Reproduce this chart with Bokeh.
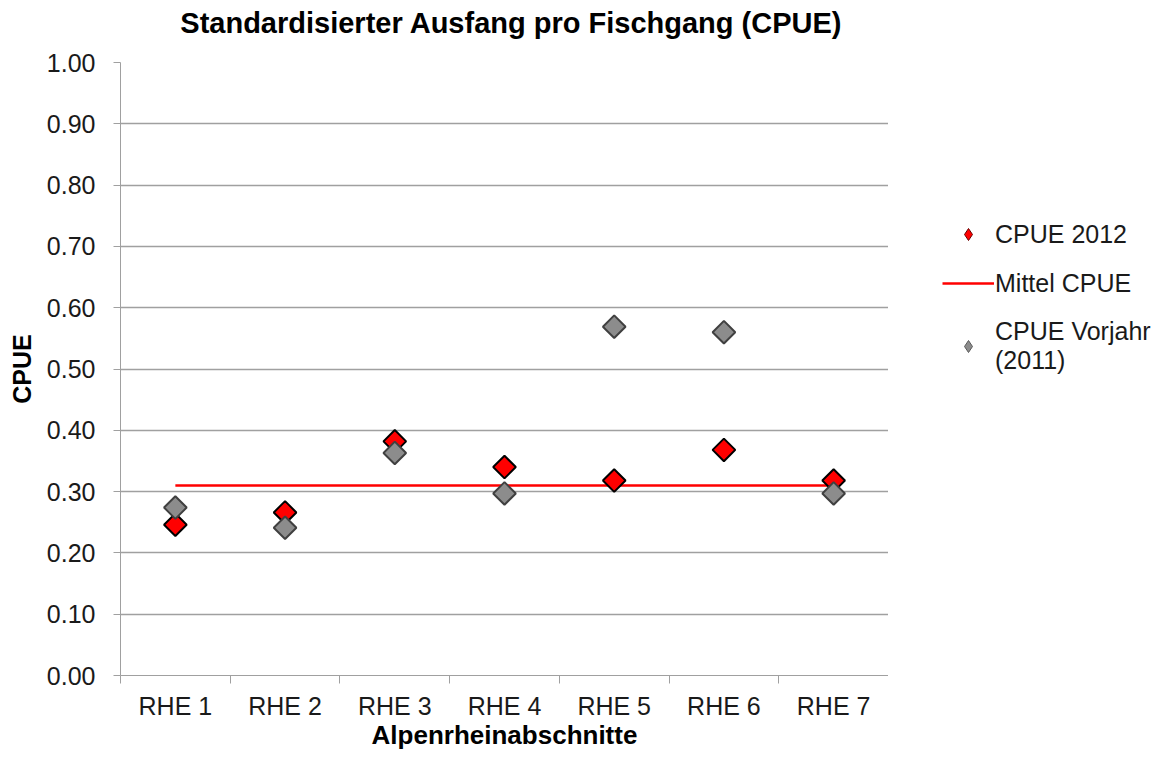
import math
from bokeh.plotting import figure
from bokeh.layouts import row, column
from bokeh.models import FixedTicker, Legend, LegendItem, ColumnDataSource, Range1d, Label
from bokeh.embed import file_html
from bokeh.resources import INLINE

categories = ["RHE 1", "RHE 2", "RHE 3", "RHE 4", "RHE 5", "RHE 6", "RHE 7"]
cpue_2012 = [0.246, 0.266, 0.382, 0.340, 0.318, 0.368, 0.318]
cpue_2011 = [0.274, 0.241, 0.363, 0.297, 0.569, 0.560, 0.297]
mittel_cpue = [0.31, 0.31, 0.31, 0.31, 0.31, 0.31, 0.31]
y_ticks = [0.0, 0.1, 0.2, 0.3, 0.4, 0.5, 0.6, 0.7, 0.8, 0.9, 1.0]
legend_labels = ["CPUE 2012", "Mittel CPUE", "CPUE Vorjahr\n(2011)"]
title_text = "Standardisierter Ausfang pro Fischgang (CPUE)"

FONT = "Liberation Sans"
TXT = "#1a1a1a"
GRID = "#a0a0a0"

xc = [i + 0.5 for i in range(len(categories))]
src = ColumnDataSource(dict(x=xc, cat=categories, c12=cpue_2012, c11=cpue_2011, m=mittel_cpue))

# header figure holding the chart title
hdr = figure(width=888, height=48, output_backend="svg", toolbar_location=None,
             x_range=Range1d(0, 888), y_range=Range1d(0, 48),
             x_axis_location=None, y_axis_location=None,
             min_border_left=0, min_border_right=0, min_border_top=0, min_border_bottom=0)
hdr.outline_line_color = None
hdr.xgrid.visible = False
hdr.ygrid.visible = False
hdr.add_layout(Label(x=452, y=26, text=title_text, text_font=FONT, text_font_size="29px",
                     text_font_style="bold", text_color="#000000",
                     text_align="center", text_baseline="middle"))

p = figure(width=888, height=704, output_backend="svg", toolbar_location=None,
           x_range=(0, len(categories)), y_range=(0, 1), title=None,
           min_border_left=120, min_border_right=0, min_border_top=14, min_border_bottom=77)
p.outline_line_color = None
p.background_fill_color = "white"

# x axis
xa = p.xaxis[0]
xa.ticker = FixedTicker(ticks=xc, minor_ticks=list(range(len(categories) + 1)))
xa.major_label_overrides = {x: c for x, c in zip(xc, categories)}
xa.major_tick_line_color = None
xa.major_tick_out = 8
xa.minor_tick_line_color = GRID
xa.minor_tick_out = 8
xa.minor_tick_in = 0
xa.axis_line_color = GRID
xa.major_label_text_font = FONT
xa.major_label_text_font_size = "25px"
xa.major_label_text_color = TXT
xa.major_label_standoff = 8
xa.axis_label = "Alpenrheinabschnitte"
xa.axis_label_text_font = FONT
xa.axis_label_text_font_size = "26px"
xa.axis_label_text_font_style = "bold"
xa.axis_label_text_color = "#000000"
xa.axis_label_standoff = -3

# y axis
ya = p.yaxis[0]
ya.ticker = FixedTicker(ticks=y_ticks, minor_ticks=[])
ya.major_label_overrides = {t: f"{t:.2f}" for t in y_ticks}
ya.major_tick_line_color = GRID
ya.major_tick_out = 7
ya.major_tick_in = 0
ya.minor_tick_line_color = None
ya.axis_line_color = GRID
ya.major_label_text_font = FONT
ya.major_label_text_font_size = "25px"
ya.major_label_text_color = TXT
ya.major_label_standoff = 18
ya.axis_label = "CPUE"
ya.axis_label_text_font = FONT
ya.axis_label_text_font_size = "25px"
ya.axis_label_text_font_style = "bold"
ya.axis_label_text_color = "#000000"
ya.axis_label_standoff = 8

p.xgrid.grid_line_color = None
p.ygrid.ticker = FixedTicker(ticks=y_ticks)
p.ygrid.grid_line_color = GRID
p.ygrid.grid_line_width = 1.5

r_line = p.line("x", "m", source=src, line_color="#ff0000", line_width=2.5)
r12 = p.scatter("x", "c12", source=src, marker="square", angle=math.pi / 4, size=16,
                fill_color="#ff0000", line_color="#000000", line_width=2)
r11 = p.scatter("x", "c11", source=src, marker="square", angle=math.pi / 4, size=16,
                fill_color="#8c8c8c", line_color="#404040", line_width=2)

# legend figure (to the right of the chart)
lf = figure(width=264, height=752, output_backend="svg", toolbar_location=None,
            x_range=Range1d(0, 1), y_range=Range1d(0, 1),
            x_axis_location=None, y_axis_location=None,
            min_border_left=0, min_border_right=0, min_border_top=0, min_border_bottom=0)
lf.outline_line_color = None
lf.xgrid.visible = False
lf.ygrid.visible = False

nan = float("nan")
lsrc = ColumnDataSource(dict(x=[nan], y=[nan]))
l12 = lf.scatter("x", "y", source=lsrc, marker="diamond", size=12,
                 fill_color="#ff0000", line_color="#6a0000", line_width=1)
lm = lf.line("x", "y", source=lsrc, line_color="#ff0000", line_width=2.5)
l11 = lf.scatter("x", "y", source=lsrc, marker="diamond", size=12,
                 fill_color="#8c8c8c", line_color="#5a5a5a", line_width=1)

legend = Legend(items=[LegendItem(label=legend_labels[0], renderers=[l12]),
                       LegendItem(label=legend_labels[1], renderers=[lm]),
                       LegendItem(label=legend_labels[2], renderers=[l11])],
                location=(54, 377), orientation="vertical",
                label_text_font=FONT, label_text_font_size="25px", label_text_color=TXT,
                label_text_line_height=1.5,
                glyph_width=52, glyph_height=30, label_standoff=1, label_height=30,
                spacing=19, padding=0, margin=0, border_line_color=None,
                background_fill_alpha=0)
lf.add_layout(legend, "center")

layout = row(column(hdr, p, spacing=0), lf, spacing=0)
open("out.html", "w").write(file_html(layout, INLINE))
